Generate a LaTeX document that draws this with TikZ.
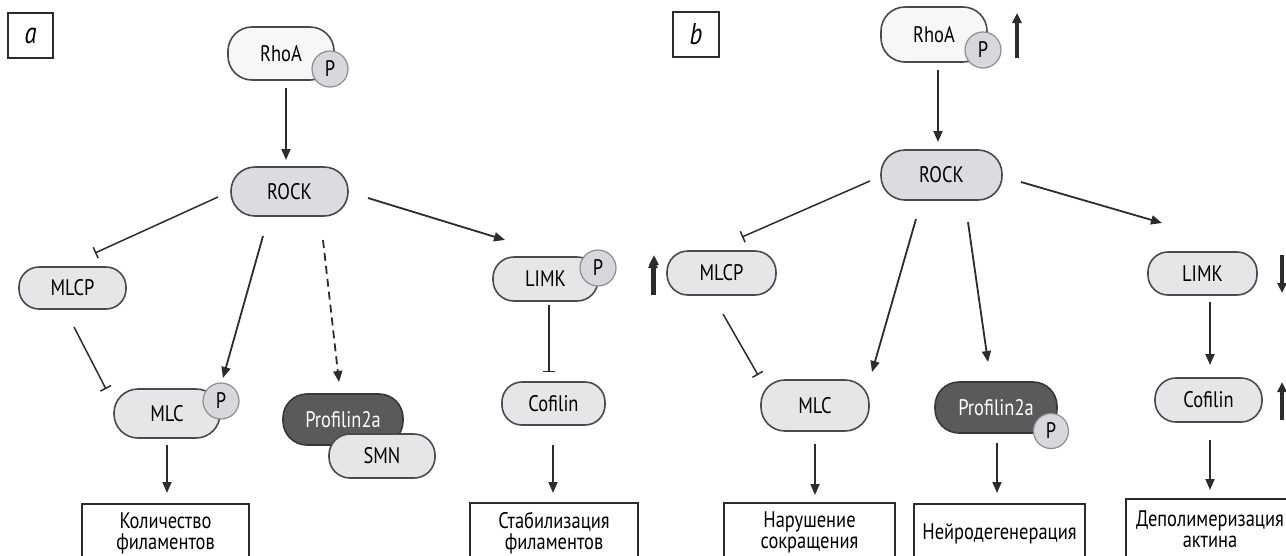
\documentclass[tikz,border=0pt]{standalone}
\usepackage{fontspec}
\setmainfont[FakeStretch=0.82]{PT Sans}
\usetikzlibrary{arrows.meta,calc}
\definecolor{pillfill}{HTML}{E6E6E9}
\definecolor{rockfill}{HTML}{DCDCE0}
\definecolor{rhofill}{HTML}{F7F7F7}
\definecolor{pfill}{HTML}{D8D8DC}
\definecolor{pborder}{HTML}{8E8E8E}
\definecolor{pillborder}{HTML}{4A4A4A}
\definecolor{darkfill}{HTML}{5A5A5A}
\definecolor{darkborder}{HTML}{383838}
\definecolor{linecol}{HTML}{2C2C2C}
\tikzset{
  pill/.style={draw=pillborder, line width=1.6pt, fill=pillfill, rounded corners=20pt,
    inner sep=0pt, font=\fontsize{22.5}{21}\selectfont, text=black},
  tallpill/.style={pill, rounded corners=24pt},
  darkpill/.style={tallpill, fill=darkfill, draw=darkborder, text=white},
  pcirc/.style={circle, draw=pborder, line width=1.2pt, fill=pfill, minimum size=36pt,
    inner sep=0pt, font=\fontsize{22.5}{21}\selectfont},
  outbox/.style={draw=linecol, line width=1.5pt, fill=white, anchor=north, align=center,
    minimum height=60pt, inner sep=0pt, font=\fontsize{22.5}{21}\selectfont},
  labbox/.style={draw=linecol, line width=1.2pt, minimum width=45pt, minimum height=45pt,
    inner sep=0pt, font=\fontsize{30}{30}\selectfont\itshape},
  act/.style={draw=linecol, line width=1.8pt, -{Triangle[length=11pt,width=9pt]}},
  dashact/.style={act, dash pattern=on 8pt off 5pt},
  inh/.style={draw=linecol, line width=1.5pt, -{Bar[width=12pt,line width=1.5pt]}},
  updown/.style={draw=linecol, line width=3.2pt, -{Triangle[length=10pt,width=9pt]}},
}
\begin{document}
\begin{tikzpicture}[x=1pt,y=-1pt]
\useasboundingbox (0,0) rectangle (1286,555);
\fill[white] (0,0) rectangle (1286,555);
\clip (0,0) rectangle (1286,555);

% ---------------- panel a ----------------
\node[labbox] (labA) at (30.5,35.5) {a};
\node[tallpill, fill=rhofill, minimum width=106pt, minimum height=53pt] (rhoA) at (281,53.5) {RhoA};
\node[pcirc] (rhoAP) at (330,69) {P};
\node[tallpill, fill=rockfill, minimum width=117pt, minimum height=49pt] (rockA) at (289.5,191.5) {ROCK};
\node[pill, minimum width=107pt, minimum height=42pt] (mlcpA) at (72.5,288) {MLCP};
\node[tallpill, minimum width=106pt, minimum height=49pt] (mlcA) at (167,413.5) {MLC};
\node[pcirc] (mlcAP) at (221,401) {P};
\node[darkpill, minimum width=120pt, minimum height=51pt] (profA) at (343,419.5) {Profilin2a};
\node[pill, rounded corners=21pt, minimum width=106pt, minimum height=44pt] (smnA) at (382,456) {SMN};
\node[pill, rounded corners=21pt, minimum width=105pt, minimum height=44pt] (limkA) at (545.5,279) {LIMK};
\node[pcirc] (limkAP) at (598,268) {P};
\node[pill, minimum width=103pt, minimum height=43pt] (cofA) at (553.5,403.5) {Cofilin};
\node[outbox, minimum width=167pt] (outA1) at (165.5,503) {Количество\\филаментов};
\node[outbox, minimum width=168pt] (outA2) at (554,502) {Стабилизация\\филаментов};

\draw[act] ($(rhoA)+(5,34.5)$) -- ($(rockA)+(-3.5,-31.5)$);
\draw[inh] ($(rockA)+(-71.5,5.5)$) -- ($(mlcpA)+(22.5,-35)$);
\draw[inh] ($(mlcpA)+(1.5,39)$) -- ($(mlcA)+(-61,-24.5)$);
\draw[act] ($(rockA)+(-26.5,44.5)$) -- ($(mlcA)+(56,-35.5)$);
\draw[dashact] ($(rockA)+(33.5,48.5)$) -- ($(profA)+(-4,-37.5)$);
\draw[act] ($(rockA)+(78.5,6.5)$) -- ($(limkA)+(-40.5,-39)$);
\draw[inh] ($(limkA)+(3.5,26)$) -- ($(cofA)+(-4.5,-31.5)$);
\draw[act] ($(mlcA)+(0,31.5)$) -- ($(outA1.north)+(1.5,-10)$);
\draw[act] ($(cofA)+(-0.5,41.5)$) -- ($(outA2.north)+(-1,-9)$);
\coordinate (upA1s) at (654,295);
\coordinate (upA1e) at (654,255);
\draw[updown] (upA1s) -- (upA1e);

% ---------------- panel b ----------------
\node[labbox, minimum width=46pt] (labB) at (696,34.5) {b};
\node[tallpill, fill=rhofill, minimum width=106pt, minimum height=55pt] (rhoB) at (934,34.5) {RhoA};
\node[pcirc] (rhoBP) at (983,50) {P};
\node[tallpill, fill=rockfill, minimum width=121pt, minimum height=50pt] (rockB) at (941.5,175) {ROCK};
\node[pill, rounded corners=21pt, minimum width=109pt, minimum height=44pt] (mlcpB) at (721.5,273) {MLCP};
\node[tallpill, minimum width=108pt, minimum height=51pt] (mlcB) at (815,405.5) {MLC};
\node[darkpill, minimum width=122pt, minimum height=51pt] (profB) at (996,407.5) {Profilin2a};
\node[pcirc, minimum size=35pt] (profBP) at (1051,431) {P};
\node[pill, minimum width=109pt, minimum height=43pt] (limkB) at (1202.5,273.5) {LIMK};
\node[pill, rounded corners=21pt, minimum width=107pt, minimum height=44pt] (cofB) at (1208.5,400) {Cofilin};
\node[outbox, minimum width=171pt] (outB1) at (809.5,502) {Нарушение\\сокращения};
\node[outbox, minimum width=171pt] (outB2) at (999.5,503) {Нейродегенерация};
\node[outbox, minimum width=168pt] (outB3) at (1210,498) {Деполимеризация\\актина};

\draw[act] ($(rhoB)+(4,35.5)$) -- ($(rockB)+(-3.5,-33)$);
\draw[inh] ($(rockB)+(-71.5,6)$) -- ($(mlcpB)+(20.5,-36)$);
\draw[inh] ($(mlcpB)+(1.5,41)$) -- ($(mlcB)+(-57,-30.5)$);
\draw[act] ($(rockB)+(-25.5,44)$) -- ($(mlcB)+(57,-33.5)$);
\draw[act] ($(rockB)+(26.5,47)$) -- ($(profB)+(-8,-45.5)$);
\draw[act] ($(rockB)+(79.5,7)$) -- ($(limkB)+(-40.5,-50.5)$);
\draw[act] ($(limkB)+(7.5,28.5)$) -- ($(cofB)+(1.5,-35)$);
\draw[act] ($(mlcB)+(0,38.5)$) -- ($(outB1.north)+(5.5,-7)$);
\draw[act] ($(profB)+(1,35.5)$) -- ($(outB2.north)+(-2.5,-10)$);
\draw[act] ($(cofB)+(1.5,40)$) -- ($(outB3.north)+(0,-8)$);
\coordinate (upB1s) at (1017,58);
\coordinate (upB1e) at (1017,13);
\draw[updown] (upB1s) -- (upB1e);
\coordinate (upB2s) at (653,295);
\coordinate (upB2e) at (653,258);
\draw[updown] (upB2s) -- (upB2e);
\coordinate (dnB3s) at (1282,255);
\coordinate (dnB3e) at (1282,293);
\draw[updown] (dnB3s) -- (dnB3e);
\coordinate (upB4s) at (1282,420);
\coordinate (upB4e) at (1282,382);
\draw[updown] (upB4s) -- (upB4e);
\end{tikzpicture}
\end{document}
